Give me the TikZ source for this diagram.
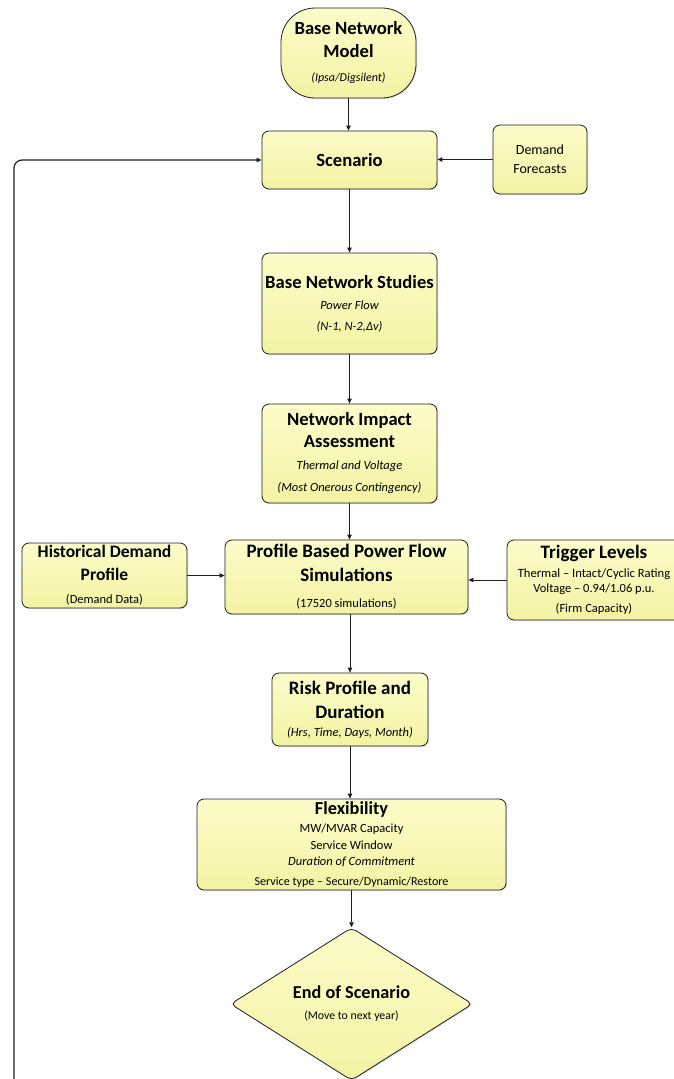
\documentclass[tikz,border=0pt]{standalone}
\usepackage{fontspec}
\setmainfont{Carlito}
\usepackage{tikz}
\usetikzlibrary{calc,arrows.meta,shapes.geometric,shadows}
\definecolor{edge}{HTML}{1F1F1F}
\definecolor{boxtop}{HTML}{FCFCCA}
\definecolor{boxbot}{HTML}{F3F3A4}
\newcommand{\headfont}{\bfseries\fontsize{18.6}{22}\selectfont}
\newcommand{\subfont}{\fontsize{12.5}{15}\selectfont}
\tikzset{
  box/.style={draw=edge, line width=0.8pt, top color=boxtop, bottom color=boxbot,
    rounded corners=7pt, align=center, inner sep=1pt,
    drop shadow={shadow xshift=1pt, shadow yshift=-1pt, opacity=0.25}},
  decision/.style={box, diamond, rounded corners=5pt},
  flow/.style={draw=edge, line width=0.9pt, -{Triangle[length=5pt,width=4.5pt]}},
  line/.style={draw=edge, line width=0.9pt}
}

\begin{document}
\begin{tikzpicture}[x=1pt, y=-1pt]
  \useasboundingbox (0,0) rectangle (674,1079);

  % main column
  \node[box, rounded corners=34pt, minimum width=135pt, minimum height=90pt,
        font=\fontsize{12}{23}\selectfont] (model) at (348.5,53)
    {{\headfont Base Network}\\ {\headfont Model}\\[1pt] {\fontsize{12}{14}\selectfont\itshape (Ipsa/Digsilent)}};
  \node[box, minimum width=175pt, minimum height=58pt] (scen) at (349.5,160)
    {\headfont Scenario};
  \node[box, minimum width=94pt, minimum height=69pt,
        font=\fontsize{14}{19}\selectfont] (fcast) at (540,159.5)
    {Demand\\ Forecasts};
  \node[box, minimum width=175pt, minimum height=101pt,
        font=\fontsize{12.5}{21}\selectfont] (bns) at (349.5,303.5)
    {{\headfont Base Network Studies}\\ {\subfont\itshape Power Flow}\\ {\subfont\itshape (N-1, N-2,Δv)}};
  \node[box, minimum width=175pt, minimum height=99pt,
        font=\fontsize{12.5}{22}\selectfont] (nia) at (349.5,453.5)
    {{\headfont Network Impact}\\ {\headfont Assessment}\\ {\subfont\itshape Thermal and Voltage}\\ {\subfont\itshape (Most Onerous Contingency)}};

  % simulations row
  \node[box, minimum width=243pt, minimum height=74pt,
        font=\fontsize{12.5}{24}\selectfont] (prof) at (346.5,577)
    {{\bfseries\fontsize{19}{22}\selectfont Profile Based Power Flow}\\ {\bfseries\fontsize{19}{22}\selectfont Simulations}\\[2pt] {\subfont (17520 simulations)}};
  \node[box, minimum width=165pt, minimum height=65pt,
        font=\fontsize{12.5}{23}\selectfont] (hist) at (104.5,575.5)
    {{\bfseries\fontsize{17.5}{21}\selectfont Historical Demand}\\ {\bfseries\fontsize{17.5}{21}\selectfont Profile}\\ {\subfont (Demand Data)}};
  \node[box, minimum width=174pt, minimum height=80pt,
        font=\fontsize{12.5}{15.5}\selectfont] (trig) at (594,580)
    {{\bfseries\fontsize{19}{22}\selectfont Trigger Levels}\\[3pt] {\fontsize{12.6}{15}\selectfont Thermal -- Intact/Cyclic Rating}\\ {\subfont Voltage -- 0.94/1.06 p.u.}\\[4pt] {\subfont (Firm Capacity)}};

  \node[box, minimum width=156pt, minimum height=73pt,
        font=\fontsize{12.5}{18}\selectfont] (risk) at (350,709.5)
    {{\bfseries\fontsize{19}{22}\selectfont Risk Profile and}\\[6pt] {\bfseries\fontsize{19}{22}\selectfont Duration}\\ {\subfont\itshape (Hrs, Time, Days, Month)}};
  \node[box, minimum width=309pt, minimum height=91pt,
        font=\fontsize{12.3}{16.5}\selectfont] (flex) at (351.5,844.5)
    {{\bfseries\fontsize{18.3}{22}\selectfont Flexibility}\\[2pt] {\subfont MW/MVAR Capacity}\\ {\subfont Service Window}\\ {\subfont\itshape Duration of Commitment}\\[3pt] {\fontsize{12.1}{15}\selectfont Service type -- Secure/Dynamic/Restore}};
  \node[decision, minimum width=242pt, minimum height=141pt, inner sep=0pt,
        font=\fontsize{12}{21}\selectfont] (end) at (351.5,1004)
    {{\bfseries\fontsize{18.2}{22}\selectfont End of Scenario}\\ {\fontsize{11.8}{14}\selectfont (Move to next year)}};

  \coordinate (loopbot) at (14,1079);

  % connectors
  \draw[flow] (model.south) -- (model.south |- scen.north);
  \draw[flow] (fcast.west) -- (fcast.west -| scen.east);
  \draw[flow] (scen.south) -- (scen.south |- bns.north);
  \draw[flow] (bns.south) -- (bns.south |- nia.north);
  \draw[flow] (nia.south) -- (nia.south |- prof.north);
  \draw[flow] (hist.east) -- (hist.east -| prof.west);
  \draw[flow] (trig.west) -- (trig.west -| prof.east);
  \draw[flow] (risk.north |- prof.south) -- (risk.north);
  \draw[flow] (risk.south) -- (risk.south |- flex.north);
  \draw[flow] (flex.south -| end.north) -- (end.north);
  \draw[line] (end.south) -- (end.south |- loopbot);
  \draw[flow, line width=1.2pt, rounded corners=8pt] (loopbot) |- (scen.west);
\end{tikzpicture}
\end{document}
